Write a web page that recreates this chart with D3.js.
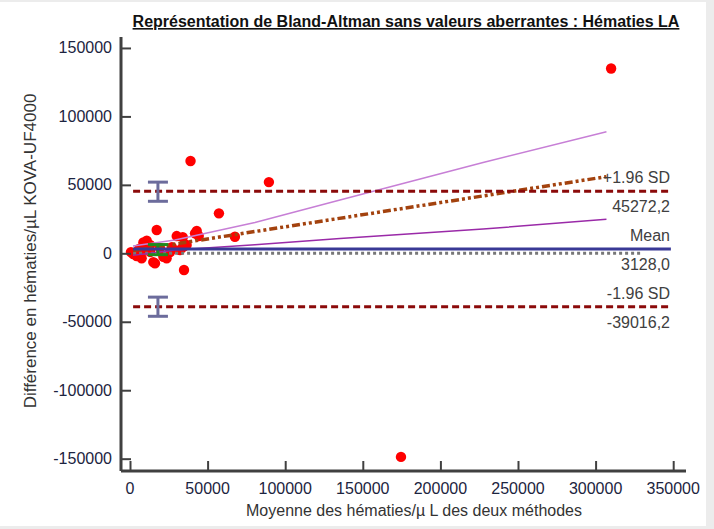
<!DOCTYPE html>
<html>
<head>
<meta charset="utf-8">
<script src="https://cdn.jsdelivr.net/npm/d3@7"></script>
<style>
  html, body { margin: 0; padding: 0; background: #ececec; }
  svg { display: block; font-family: "Liberation Sans", Arial, sans-serif; }
</style>
</head>
<body>
<div id="chart"></div>
<script>
// moyenne des deux méthodes (x) et différence (y)
const meanValues = [310000, 174600, 89500, 39000, 57300, 67600, 34800, 17200, 43000, 41900,
    44300, 30100, 34000, 34300, 32200, 36500, 10800, 8600, 12900, 15000,
    16100, 2100, 4300, 3200, 7500, 21500, 23600, 600, 5800, 19300, 25800, 9700, 13000, 27000];
const diffValues = [135000, -148700, 52000, 67400, 29200, 12100, -12200, 17000, 16300, 14600,
    12600, 12600, 11700, 4800, 2400, 6100, 9200, 7900, 6100, -6400,
    -7300, -500, -2000, 200, -3600, -2500, -3600, 900, 3100, 3900, 900, 2400, 1000, 4500];

const xTicks = [0, 50000, 100000, 150000, 200000, 250000, 300000, 350000];
const yTicks = [-150000, -100000, -50000, 0, 50000, 100000, 150000];

// limites d'agrément
const loaValues = [45272.2, 3128.0, -39016.2];
const loaNames = ["+1.96 SD", "Mean", "-1.96 SD"];

// intervalles de confiance (bornes basse / haute)
const ciUpper = [38000, 52000];
const ciLower = [-46000, -32000];
const ciMean = [-1000, 6400];
const ciX = 18000;

// droite de régression et sa bande de confiance
const regX = [1900, 307000];
const regY = [2000, 56000];
const bandX = [1900, 29000, 80500, 135300, 227500, 307000];
const bandUpper = [5300, 9700, 22500, 38900, 66400, 88800];
const bandLower = [-1500, 2500, 6300, 10900, 17700, 24800];

const width = 714, height = 529;
const svg = d3.select("#chart").append("svg")
    .attr("width", width)
    .attr("height", height);

// panneau blanc
svg.append("rect")
    .attr("x", 0).attr("y", 2)
    .attr("width", 706).attr("height", 524)
    .attr("fill", "#fff");

const x = d3.scaleLinear().domain([-5800, 358250]).range([121, 686]);
const y = d3.scaleLinear().domain([-159000, 158000]).range([471, 37]);

const fr = d3.formatLocale({ decimal: ",", thousands: "", grouping: [3], currency: ["", "€"], minus: "-" });
const f1 = fr.format(".1f");

// titre
svg.append("text")
    .attr("x", 406).attr("y", 27)
    .attr("text-anchor", "middle")
    .attr("font-weight", "bold")
    .attr("font-size", 16)
    .attr("text-decoration", "underline")
    .attr("fill", "#111")
    .text("Représentation de Bland-Altman sans valeurs aberrantes : Hématies LA");

// points
svg.append("g")
    .selectAll("circle")
    .data(meanValues)
    .join("circle")
    .attr("cx", d => x(d))
    .attr("cy", (d, i) => y(diffValues[i]))
    .attr("r", 5.2)
    .attr("fill", "#ff0000");

// ligne zéro pointillée
svg.append("line")
    .attr("x1", x(2000)).attr("x2", x(329000))
    .attr("y1", y(0)).attr("y2", y(0))
    .attr("stroke", "#777")
    .attr("stroke-width", 3)
    .attr("stroke-dasharray", "3,3");

// bande de confiance de la régression
const band = d3.line()
    .x((d, i) => x(bandX[i]))
    .y(d => y(d));

svg.append("path")
    .attr("d", band(bandUpper))
    .attr("fill", "none")
    .attr("stroke", "#c77fd6")
    .attr("stroke-width", 1.5);

svg.append("path")
    .attr("d", band(bandLower))
    .attr("fill", "none")
    .attr("stroke", "#9a2aa8")
    .attr("stroke-width", 1.5);

// droite de régression
svg.append("path")
    .attr("d", d3.line().x((d, i) => x(regX[i])).y(d => y(d))(regY))
    .attr("fill", "none")
    .attr("stroke", "#a3420e")
    .attr("stroke-width", 3.5)
    .attr("stroke-dasharray", "8,3,3,3,3,3");

// barre d'erreur
function errorBar(lo, hi, color) {
    const g = svg.append("g")
        .attr("stroke", color)
        .attr("stroke-width", 3);
    g.append("line")
        .attr("x1", x(ciX)).attr("x2", x(ciX))
        .attr("y1", y(lo)).attr("y2", y(hi));
    [lo, hi].forEach(v => {
        g.append("line")
            .attr("x1", x(ciX) - 10).attr("x2", x(ciX) + 10)
            .attr("y1", y(v)).attr("y2", y(v));
    });
}
errorBar(ciMean[0], ciMean[1], "#1f8a1f");

// limites d'agrément
loaValues.forEach((v, i) => {
    const isMean = i === 1;
    svg.append("line")
        .attr("x1", x(2000)).attr("x2", x(348500))
        .attr("y1", y(v)).attr("y2", y(v))
        .attr("stroke", isMean ? "#393996" : "#8b0a0a")
        .attr("stroke-width", 3)
        .attr("stroke-dasharray", isMean ? null : "7,4");

    svg.append("text")
        .attr("x", 670).attr("y", y(v) - 8)
        .attr("text-anchor", "end")
        .attr("font-size", 16)
        .attr("fill", "#404040")
        .text(loaNames[i]);

    svg.append("text")
        .attr("x", 670).attr("y", y(v) + 21)
        .attr("text-anchor", "end")
        .attr("font-size", 16)
        .attr("fill", "#404040")
        .text(f1(v));
});

errorBar(ciUpper[0], ciUpper[1], "#6c6c9c");
errorBar(ciLower[0], ciLower[1], "#6c6c9c");

// axes
const axisColor = "#404040";
const gx = svg.append("g")
    .attr("transform", `translate(0,${y.range()[0]})`)
    .call(d3.axisTop(x).tickValues(xTicks).tickSize(10).tickFormat(""));
const gy = svg.append("g")
    .attr("transform", `translate(${x.range()[0]},0)`)
    .call(d3.axisRight(y).tickValues(yTicks).tickSize(10).tickFormat(""));

[gx, gy].forEach(g => {
    g.select(".domain").attr("stroke", axisColor).attr("stroke-width", 3);
    g.selectAll(".tick line").attr("stroke", axisColor).attr("stroke-width", 2);
});
gx.select(".domain").attr("d", `M${x.range()[0]},0H${x.range()[1]}`);
gy.select(".domain").attr("d", `M0,${y.range()[1]}V${y.range()[0]}`);

svg.append("g")
    .selectAll("text")
    .data(xTicks)
    .join("text")
    .attr("x", d => x(d))
    .attr("y", 494)
    .attr("text-anchor", "middle")
    .attr("font-size", 16)
    .attr("fill", "#1c2440")
    .text(d => d);

svg.append("g")
    .selectAll("text")
    .data(yTicks)
    .join("text")
    .attr("x", 112)
    .attr("y", d => y(d) + 5.5)
    .attr("text-anchor", "end")
    .attr("font-size", 16)
    .attr("fill", "#1c2440")
    .text(d => d);

// titres des axes
svg.append("text")
    .attr("x", 414).attr("y", 516)
    .attr("text-anchor", "middle")
    .attr("font-size", 16)
    .attr("fill", "#333")
    .text("Moyenne des hématies/µ L des deux méthodes");

svg.append("text")
    .attr("transform", `translate(36,251) rotate(-90)`)
    .attr("text-anchor", "middle")
    .attr("font-size", 17)
    .attr("fill", "#333")
    .text("Différence en hématies/µL KOVA-UF4000");
</script>
</body>
</html>
